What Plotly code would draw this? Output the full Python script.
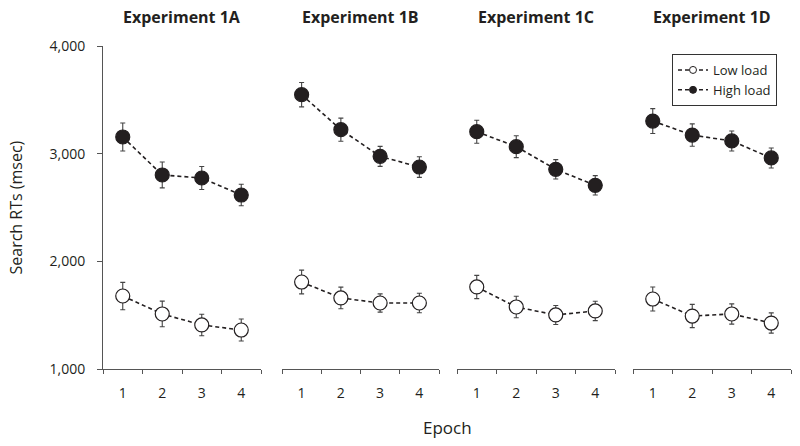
import plotly.graph_objects as go

experiments = ["Experiment 1A", "Experiment 1B", "Experiment 1C", "Experiment 1D"]
epochs = [1, 2, 3, 4]

low_load = [
    [1678, 1511, 1409, 1362],
    [1808, 1660, 1613, 1613],
    [1762, 1576, 1502, 1539],
    [1650, 1492, 1511, 1427],
]
low_err = [
    [127, 119, 100, 102],
    [110, 100, 85, 90],
    [108, 100, 88, 90],
    [111, 108, 94, 94],
]
high_load = [
    [3155, 2802, 2774, 2616],
    [3548, 3223, 2975, 2876],
    [3204, 3065, 2855, 2706],
    [3303, 3173, 3118, 2960],
]
high_err = [
    [130, 120, 107, 100],
    [113, 107, 93, 96],
    [107, 102, 90, 90],
    [115, 104, 93, 93],
]
y_ticks = [1000, 2000, 3000, 4000]

W, H = 800, 446
panel_px = [(103, 261), (282, 439), (457, 615), (633, 791)]
y_top_px, y_bot_px = 46, 369
FONT = "Open Sans"
INK = "#231f20"
AX = "#555555"
DASH = "4px,3px"

fig = go.Figure()
layout = dict(
    width=W, height=H, margin=dict(l=0, r=0, t=0, b=0, autoexpand=False),
    plot_bgcolor="white", paper_bgcolor="white",
    font=dict(family=FONT, size=14, color=INK),
    showlegend=True,
)
ydom = [1 - y_bot_px / H, 1 - y_top_px / H]
annotations = []
for i, name in enumerate(experiments):
    xa = "x" if i == 0 else f"x{i+1}"
    ya = "y" if i == 0 else f"y{i+1}"
    xkey = "xaxis" if i == 0 else f"xaxis{i+1}"
    ykey = "yaxis" if i == 0 else f"yaxis{i+1}"
    x0, x1 = panel_px[i]
    layout[xkey] = dict(
        domain=[x0 / W, x1 / W], range=[0.5, 4.5], anchor=ya, automargin=False,
        tickvals=epochs, ticktext=[str(e) for e in epochs], ticks="",
        showline=True, linecolor=AX, linewidth=1, showgrid=False, zeroline=False,
        tickfont=dict(size=14, color=INK), ticklabelstandoff=11,
        minor=dict(tickvals=[0.5, 1.5, 2.5, 3.5, 4.5], ticks="outside", ticklen=4,
                   tickcolor=AX, tickwidth=1, showgrid=False),
    )
    layout[ykey] = dict(
        domain=ydom, range=[1000, 4000], anchor=xa, automargin=False,
        tickvals=y_ticks, tickformat=",d", ticks="outside", ticklen=5,
        tickcolor=AX, showline=(i == 0), linecolor=AX, linewidth=1,
        showgrid=False, zeroline=False, showticklabels=(i == 0),
        tickfont=dict(size=14, color=INK), ticklabelstandoff=9,
        visible=(i == 0),
    )
    annotations.append(dict(
        text=f"<b>{name}</b>", x=(x0 + x1) / 2 / W, y=1 - 17 / H,
        xref="paper", yref="paper", showarrow=False,
        font=dict(family=FONT, size=16, color=INK), xanchor="center", yanchor="middle",
    ))
    for vals, errs, fill in [(low_load[i], low_err[i], "white"), (high_load[i], high_err[i], INK)]:
        fig.add_trace(go.Scatter(
            x=epochs, y=vals, xaxis=xa, yaxis=ya, mode="lines+markers",
            line=dict(color=INK, width=1.6, dash=DASH),
            marker=dict(size=14, color=fill, line=dict(color=INK, width=1.2)),
            error_y=dict(type="data", array=errs, visible=True, thickness=1.1,
                         width=2.5, color="#444444"),
            showlegend=False, cliponaxis=False,
        ))

for label, fill in [("Low load", "white"), ("High load", INK)]:
    fig.add_trace(go.Scatter(
        x=[None], y=[None], mode="lines+markers", name=label,
        line=dict(color=INK, width=1.5, dash=DASH),
        marker=dict(size=7, color=fill, line=dict(color=INK, width=1)),
        showlegend=True,
    ))

annotations.append(dict(
    text="Search RTs (msec)", x=16 / W, y=1 - (y_top_px + y_bot_px) / 2 / H,
    xref="paper", yref="paper", showarrow=False, textangle=-90,
    font=dict(family=FONT, size=16, color=INK), xanchor="center", yanchor="middle",
))
annotations.append(dict(
    text="Epoch", x=447 / W, y=1 - 427 / H,
    xref="paper", yref="paper", showarrow=False,
    font=dict(family=FONT, size=17, color=INK), xanchor="center", yanchor="middle",
))
layout["annotations"] = annotations
layout["legend"] = dict(
    x=672 / W, y=1 - 54 / H, xanchor="left", yanchor="top",
    bordercolor="#333333", borderwidth=1, bgcolor="white",
    font=dict(family=FONT, size=13, color=INK), itemwidth=30,
    tracegroupgap=0,
)
fig.update_layout(**layout)
fig.write_html("out.html", config={"displayModeBar": False},
               post_script="document.body.style.margin='0';document.body.style.overflow='hidden';")
